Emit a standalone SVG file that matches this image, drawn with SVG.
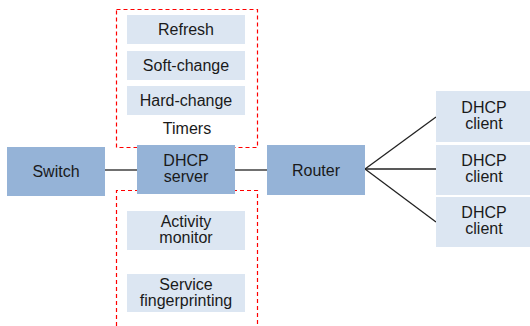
<svg xmlns="http://www.w3.org/2000/svg" width="530" height="326" viewBox="0 0 530 326">
<style>
.dark{fill:#95B3D7}
.light{fill:#DCE6F2}
.t{font-family:"Liberation Sans",Arial,sans-serif;font-size:16px;fill:#1a1a1a;text-anchor:middle}
.red{fill:none;stroke:#FF0000;stroke-width:1.2;stroke-dasharray:4,3}
.ln{stroke:#222;stroke-width:1.3;fill:none}
</style>
<rect width="530" height="326" fill="#fff"/>
<g id="connectors">
<line class="ln" x1="105" y1="170" x2="137" y2="170"/>
<line class="ln" x1="235" y1="170" x2="267" y2="170"/>
<line class="ln" x1="365" y1="169" x2="436" y2="117"/>
<line class="ln" x1="365" y1="169" x2="436" y2="169"/>
<line class="ln" x1="365" y1="169" x2="436" y2="222"/>
</g>
<g id="timers-group">
<rect class="red" x="116.5" y="9.5" width="141" height="138"/>
<text class="t" x="187" y="134">Timers</text>
</g>
<g id="monitor-group">
<path class="red" d="M116.5,326 V190.5 H257.5 V326"/>
</g>
<g id="refresh"><rect class="light" x="127" y="15" width="118" height="29"/><text class="t" x="186" y="35">Refresh</text></g>
<g id="soft-change"><rect class="light" x="127" y="51" width="118" height="29"/><text class="t" x="186" y="71">Soft-change</text></g>
<g id="hard-change"><rect class="light" x="127" y="86" width="118" height="29"/><text class="t" x="186" y="106">Hard-change</text></g>
<g id="switch"><rect class="dark" x="7" y="147" width="98" height="49"/><text class="t" x="56" y="177">Switch</text></g>
<g id="dhcp-server"><rect class="dark" x="137" y="145" width="98" height="49"/><text class="t" x="186" y="166">DHCP</text><text class="t" x="186" y="182">server</text></g>
<g id="router"><rect class="dark" x="267" y="145" width="98" height="50"/><text class="t" x="316" y="176">Router</text></g>
<g id="activity-monitor"><rect class="light" x="127" y="211" width="118" height="39"/><text class="t" x="186" y="227">Activity</text><text class="t" x="186" y="243">monitor</text></g>
<g id="service-fingerprinting"><rect class="light" x="127" y="274" width="118" height="38"/><text class="t" x="186" y="290">Service</text><text class="t" x="186" y="306">fingerprinting</text></g>
<g id="client1"><rect class="light" x="436" y="91" width="94" height="51"/><text class="t" x="484" y="113">DHCP</text><text class="t" x="484" y="129">client</text></g>
<g id="client2"><rect class="light" x="436" y="145" width="94" height="50"/><text class="t" x="484" y="166">DHCP</text><text class="t" x="484" y="182">client</text></g>
<g id="client3"><rect class="light" x="436" y="197" width="94" height="50"/><text class="t" x="484" y="218">DHCP</text><text class="t" x="484" y="234">client</text></g>
</svg>
